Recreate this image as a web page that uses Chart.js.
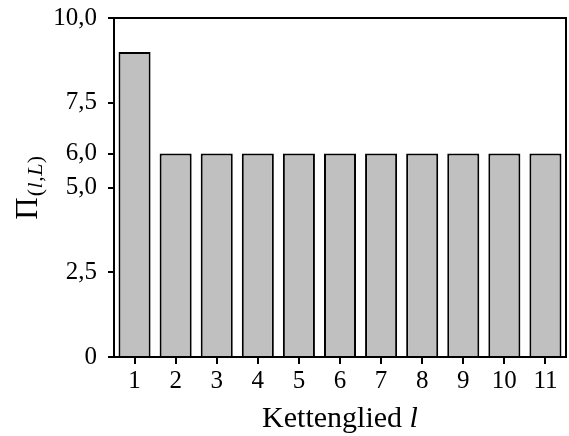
<!DOCTYPE html>
<html lang="de">

<head>
  <meta charset="UTF-8" />
  <script src="https://cdn.jsdelivr.net/npm/chart.js"></script>
  <title>Kettenglied</title>
  <style>
    * {
      padding: 0;
      margin: 0;
    }

    html,
    body {
      background-color: #ffffff;
      width: 569px;
      height: 436px;
      overflow: hidden;
    }

    .graph {
      position: relative;
      width: 569px;
      height: 436px;
    }
  </style>
</head>

<body>
  <div class="graph">
    <canvas id="piGraph" aria-label="Pi pro Kettenglied" role="img"></canvas>
  </div>
</body>

<script>
  // Kettenglied l = 1..11 and the value of Pi(l,L) for each one
  const glieder = ['1', '2', '3', '4', '5', '6', '7', '8', '9', '10', '11'];
  const piWerte = [9, 6, 6, 6, 6, 6, 6, 6, 6, 6, 6];
  const yTicks = [0, 2.5, 5, 6, 7.5, 10];

  const serif = '"Liberation Serif", "DejaVu Serif", serif';

  // German number format: 2,5 / 10,0 (zero stays plain)
  function formatTick(v) {
    if (v === 0) return '0';
    return v.toFixed(1).replace('.', ',');
  }

  // Frame around the plot plus the two axis titles (with subscript / italics)
  const framePlugin = {
    id: 'frameAndTitles',
    afterDraw(chart) {
      const ctx = chart.ctx;
      const a = chart.chartArea;
      ctx.save();
      ctx.strokeStyle = '#000';
      ctx.lineWidth = 2;
      ctx.strokeRect(a.left, a.top, a.right - a.left, a.bottom - a.top);

      ctx.fillStyle = '#000';
      ctx.textBaseline = 'alphabetic';

      // x title: "Kettenglied l"
      const xFont = '30px ' + serif;
      const xItal = 'italic 30px ' + serif;
      ctx.font = xFont;
      const t1 = 'Kettenglied ';
      const w1 = ctx.measureText(t1).width;
      ctx.font = xItal;
      const w2 = ctx.measureText('l').width;
      let x = (a.left + a.right) / 2 - (w1 + w2) / 2;
      ctx.textAlign = 'left';
      ctx.font = xFont;
      ctx.fillText(t1, x, 427);
      ctx.font = xItal;
      ctx.fillText('l', x + w1, 427);

      // y title: Pi with subscript (l,L), rotated
      const bigFont = '31px ' + serif;
      const subFont = '22px ' + serif;
      const subItal = 'italic 22px ' + serif;
      const parts = [['(', subFont], ['l', subItal], [',', subFont], ['L', subItal], [')', subFont]];
      ctx.font = bigFont;
      const wPi = ctx.measureText('\u03A0').width;
      let wSub = 0;
      parts.forEach(p => { ctx.font = p[1]; wSub += ctx.measureText(p[0]).width + 0.5; });
      const total = wPi + 1 + wSub;
      ctx.translate(37, (a.top + a.bottom) / 2 + total / 2);
      ctx.rotate(-Math.PI / 2);
      ctx.font = bigFont;
      ctx.fillText('\u03A0', 0, 0);
      let sx = wPi + 1;
      parts.forEach(p => {
        ctx.font = p[1];
        ctx.fillText(p[0], sx, 5);
        sx += ctx.measureText(p[0]).width + 0.5;
      });
      ctx.restore();
    }
  };

  const piGraph = document.getElementById('piGraph');

  Chart.defaults.color = '#000';
  Chart.defaults.font.family = serif;

  const piGraphChart = new Chart(piGraph, {
    type: 'bar',
    data: {
      labels: glieder,
      datasets: [
        {
          label: 'Pi',
          data: piWerte,
          backgroundColor: '#c0c0c0',
          borderColor: '#000',
          borderWidth: 2,
          borderSkipped: 'bottom',
          barPercentage: 0.78,
          categoryPercentage: 1.0
        }
      ]
    },
    options: {
      responsive: true,
      maintainAspectRatio: false,
      animation: false,
      layout: {
        padding: { top: 18, right: 3, left: 0, bottom: 0 }
      },
      scales: {
        x: {
          offset: true,
          border: { display: false },
          grid: {
            drawOnChartArea: false,
            drawTicks: true,
            tickLength: 7,
            color: '#000',
            lineWidth: 2,
            offset: false
          },
          ticks: {
            font: { size: 25 },
            padding: 2,
            maxRotation: 0
          },
          afterFit: function(scale) {
            scale.height = 79;
            scale.paddingLeft = 0;
            scale.paddingRight = 0;
          }
        },
        y: {
          min: 0,
          max: 10,
          border: { display: false },
          grid: {
            drawOnChartArea: false,
            drawTicks: true,
            tickLength: 6,
            color: '#000',
            lineWidth: 2
          },
          ticks: {
            font: { size: 25 },
            padding: 11,
            callback: function(value) {
              return formatTick(value);
            }
          },
          afterBuildTicks: function(scale) {
            scale.ticks = yTicks.map(v => ({ value: v }));
          },
          afterFit: function(scale) {
            scale.width = 114;
            scale.paddingTop = 0;
            scale.paddingBottom = 0;
          }
        }
      },
      plugins: {
        legend: { display: false },
        tooltip: { enabled: false }
      }
    },
    plugins: [framePlugin]
  });
</script>

</html>
